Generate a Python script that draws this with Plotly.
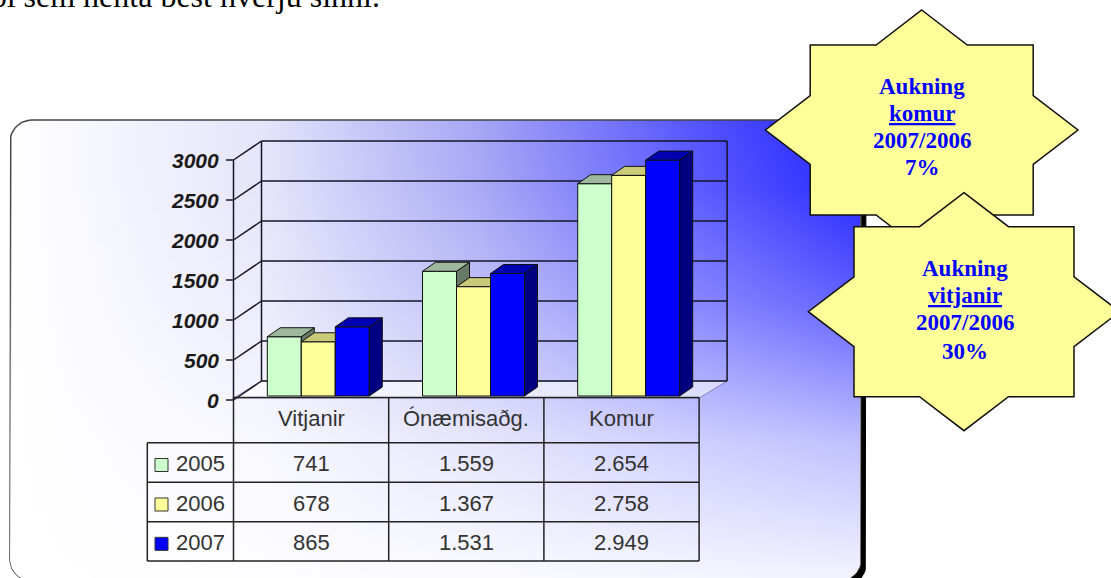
import math
import plotly.graph_objects as go

# ---------------- data ----------------
categories = ["Vitjanir", "Ónæmisaðg.", "Komur"]
years = ["2005", "2006", "2007"]
values_2005 = [741, 1559, 2654]
values_2006 = [678, 1367, 2758]
values_2007 = [865, 1531, 2949]
y_ticks = [0, 500, 1000, 1500, 2000, 2500, 3000]
star_komur_lines = ["Aukning", "<u>komur</u>", "2007/2006", "7%"]
star_vitjanir_lines = ["Aukning", "<u>vitjanir</u>", "2007/2006", "30%"]
header_text = "úrræði sem henta best hverju sinni."

series = [values_2005, values_2006, values_2007]
front_colors = ["#CCFFCC", "#FFFF99", "#0000FF"]
top_colors = ["#9DB89D", "#CACA78", "#0000B0"]
side_colors = ["#667A66", "#9A9A50", "#000080"]
swatch_colors = ["#CCFFCC", "#FFFF99", "#0000FF"]

# ---------------- layout calibration ----------------
W, H = 1111, 578
X0, XS = 318.3, 155.2   # pixel of category 0 and pixels per category
Y0, YS = 396.0, 0.08    # pixel of value 0 and pixels per unit


def X(px):
    return (px - X0) / XS


def V(py):
    return (Y0 - py) / YS


BW = 34.0 / XS            # bar width (category units)
DX, DV = 13.0 / XS, 9.0 / YS        # bar depth offset
AX_X = X(233.5)           # front-left axis position
BDX = 28.0 / XS           # wall depth
FRONT_V = V(400)          # front plane offset for ticks
FLOOR_V = V(398)
BACK_V = V(381)

fig = go.Figure()


def rrect(l, t, r, b, rad, n=12):
    pts = []
    for cx, cy, a0 in [(r - rad, t + rad, -90), (r - rad, b - rad, 0),
                       (l + rad, b - rad, 90), (l + rad, t + rad, 180)]:
        for k in range(n + 1):
            a = math.radians(a0 + 90 * k / n)
            pts.append((cx + rad * math.cos(a), cy + rad * math.sin(a)))
    pts.append(pts[0])
    return [X(p[0]) for p in pts], [V(p[1]) for p in pts]


# shadow
sx, sy = rrect(15, 125, 866, 586, 22)
fig.add_trace(go.Scatter(x=sx, y=sy, mode="lines", fill="toself", fillcolor="#000000",
                         line=dict(color="#000000", width=1), hoverinfo="skip", showlegend=False))
# frame with gradient
fx, fy = rrect(10, 120, 861, 581, 22)
fig.add_trace(go.Scatter(
    x=fx, y=fy, mode="lines", fill="toself",
    fillgradient=dict(type="horizontal",
                      colorscale=[[0, "#ffffff"], [0.3, "#e4e4fb"], [0.55, "#a6a6f5"],
                                  [0.8, "#5656ff"], [1, "#1e1eff"]],
                      start=X(10), stop=X(861)),
    line=dict(color="#444444", width=1.5), hoverinfo="skip", showlegend=False))
fig.add_trace(go.Scatter(
    x=fx, y=fy, mode="lines", fill="toself",
    fillgradient=dict(type="vertical",
                      colorscale=[[0, "rgba(255,255,255,0.95)"], [0.3, "rgba(255,255,255,0.72)"],
                                  [0.6, "rgba(255,255,255,0.3)"], [0.85, "rgba(255,255,255,0.05)"],
                                  [1, "rgba(255,255,255,0)"]],
                      start=V(581), stop=V(120)),
    line=dict(color="rgba(0,0,0,0)", width=0), hoverinfo="skip", showlegend=False))

# floor
ncat = len(categories)
floor_x = [AX_X, AX_X + ncat, AX_X + ncat + BDX, AX_X + BDX, AX_X]
floor_y = [FLOOR_V, FLOOR_V, BACK_V, BACK_V, FLOOR_V]
fig.add_trace(go.Scatter(x=floor_x, y=floor_y, mode="lines", fill="toself",
                         fillcolor="rgba(255,255,255,0.55)",
                         line=dict(color="rgba(90,90,140,0.6)", width=1),
                         hoverinfo="skip", showlegend=False))

# walls and grid
gx, gy = [], []
top_t = y_ticks[-1]
for t in y_ticks:
    gx += [AX_X + BDX, AX_X + ncat + BDX, None]
    gy += [BACK_V + t, BACK_V + t, None]
    gx += [AX_X, AX_X + BDX, None]
    gy += [FRONT_V + t, BACK_V + t, None]
    gx += [X(226), AX_X, None]
    gy += [FRONT_V + t, FRONT_V + t, None]
gx += [AX_X + BDX, AX_X + BDX, None, AX_X + ncat + BDX, AX_X + ncat + BDX, None]
gy += [BACK_V, BACK_V + top_t, None, BACK_V, BACK_V + top_t, None]
gx += [AX_X, AX_X, None]
gy += [FRONT_V, FRONT_V + top_t, None]
fig.add_trace(go.Scatter(x=gx, y=gy, mode="lines", line=dict(color="#141428", width=1.5),
                         hoverinfo="skip", showlegend=False))

# 3D bars
for i in range(ncat):
    for j, vals in enumerate(series):
        v = vals[i]
        xl = i - 1.5 * BW + j * BW
        xr = xl + BW
        faces = [
            ([xl, xr, xr, xl, xl], [0, 0, v, v, 0], front_colors[j]),
            ([xr, xr + DX, xr + DX, xr, xr], [0, DV, v + DV, v, 0], side_colors[j]),
            ([xl, xr, xr + DX, xl + DX, xl], [v, v, v + DV, v + DV, v], top_colors[j]),
        ]
        for px_, py_, col in faces:
            fig.add_trace(go.Scatter(x=px_, y=py_, mode="lines", fill="toself", fillcolor=col,
                                     line=dict(color="#111111", width=1),
                                     hoverinfo="skip", showlegend=False))

shapes = []
annotations = []

# y tick labels
for t in y_ticks:
    annotations.append(dict(x=X(221), y=FRONT_V + t, xref="x", yref="y", text=str(t),
                            xanchor="right", yanchor="middle", showarrow=False,
                            font=dict(family="Liberation Sans, Arial", size=21,
                                      color="#1a1a1a", weight="bold", style="italic")))

# data table
row_py = [397.5, 442.7, 482.3, 521.7, 561.0]
tbl_left = X(147.3)
line_style = dict(color="#222222", width=1.5)
col_edges = [AX_X + k for k in range(ncat + 1)]
for cx in col_edges:
    shapes.append(dict(type="line", xref="x", yref="y", x0=cx, x1=cx,
                       y0=V(row_py[0]), y1=V(row_py[-1]), line=line_style, layer="above"))
shapes.append(dict(type="line", xref="x", yref="y", x0=tbl_left, x1=tbl_left,
                   y0=V(row_py[1]), y1=V(row_py[-1]), line=line_style, layer="above"))
shapes.append(dict(type="line", xref="x", yref="y", x0=col_edges[0], x1=col_edges[-1],
                   y0=V(row_py[0]), y1=V(row_py[0]), line=line_style, layer="above"))
for ry in row_py[1:]:
    shapes.append(dict(type="line", xref="x", yref="y", x0=tbl_left, x1=col_edges[-1],
                       y0=V(ry), y1=V(ry), line=line_style, layer="above"))

tfont = dict(family="Liberation Sans, Arial", size=22, color="#333333")
for k, cat in enumerate(categories):
    annotations.append(dict(x=AX_X + k + 0.5, y=V((row_py[0] + row_py[1]) / 2 - 2), xref="x", yref="y",
                            text=cat, showarrow=False, xanchor="center", yanchor="middle", font=tfont))
for r, (yr, vals) in enumerate(zip(years, series)):
    cy = (row_py[r + 1] + row_py[r + 2]) / 2 + 1
    annotations.append(dict(x=X(174), y=V(cy), xref="x", yref="y", text=yr, showarrow=False,
                            xanchor="left", yanchor="middle", font=tfont))
    shapes.append(dict(type="rect", xref="x", yref="y", x0=X(155), x1=X(168),
                       y0=V(cy - 5), y1=V(cy + 8), fillcolor=swatch_colors[r],
                       line=dict(color="#333333", width=1), layer="above"))
    for k in range(ncat):
        txt = f"{vals[k]:,}".replace(",", ".")
        annotations.append(dict(x=AX_X + k + 0.5, y=V(cy), xref="x", yref="y", text=txt,
                                showarrow=False, xanchor="center", yanchor="middle", font=tfont))


# stars
def star_path(cx, cy, rw, rh, dw, dh):
    ax = dw * (1 - rh / dh)
    ay = dh * (1 - rw / dw)
    pts = [(cx, cy - dh), (cx + ax, cy - rh), (cx + rw, cy - rh), (cx + rw, cy - ay),
           (cx + dw, cy), (cx + rw, cy + ay), (cx + rw, cy + rh), (cx + ax, cy + rh),
           (cx, cy + dh), (cx - ax, cy + rh), (cx - rw, cy + rh), (cx - rw, cy + ay),
           (cx - dw, cy), (cx - rw, cy - ay), (cx - rw, cy - rh), (cx - ax, cy - rh)]
    return "M " + " L ".join(f"{X(p[0]):.5f},{V(p[1]):.3f}" for p in pts) + " Z"


stars = [
    ((921.7, 130.0, 111.5, 85.0, 156.3, 120.0), star_komur_lines, 922, [94.3, 121.7, 148.3, 175.7]),
    ((964.0, 311.7, 110.0, 85.0, 155.7, 119.0), star_vitjanir_lines, 965, [276.7, 303.3, 330.7, 359.0]),
]
sfont = dict(family="Liberation Serif, Times New Roman", size=23, color="#0000FF", weight="bold")
for geom, lines, tx, baselines in stars:
    shapes.append(dict(type="path", xref="x", yref="y", path=star_path(*geom),
                       fillcolor="#FFFF99", line=dict(color="#111111", width=1.5), layer="above"))
    for ln, bl in zip(lines, baselines):
        annotations.append(dict(x=X(tx), y=V(bl - 7.8), xref="x", yref="y", text=ln,
                                showarrow=False, xanchor="center", yanchor="middle", font=sfont))

# cropped document text at top (paper reference so it may sit partly outside)
annotations.append(dict(x=382 / W, y=1 + 3.8 / H, xref="paper", yref="paper", text=header_text,
                        showarrow=False, xanchor="right", yanchor="middle",
                        font=dict(family="Liberation Serif, Times New Roman", size=32, color="#000000")))

fig.update_layout(
    width=W, height=H, margin=dict(l=0, r=0, t=0, b=0),
    paper_bgcolor="#ffffff", plot_bgcolor="rgba(0,0,0,0)",
    xaxis=dict(range=[X(0), X(W)], visible=False, fixedrange=True),
    yaxis=dict(range=[V(H), V(0)], visible=False, fixedrange=True),
    shapes=shapes, annotations=annotations, showlegend=False,
)

fig.write_html("out.html", config={"displayModeBar": False},
               post_script="document.body.style.margin='0';document.body.style.overflow='hidden';")
